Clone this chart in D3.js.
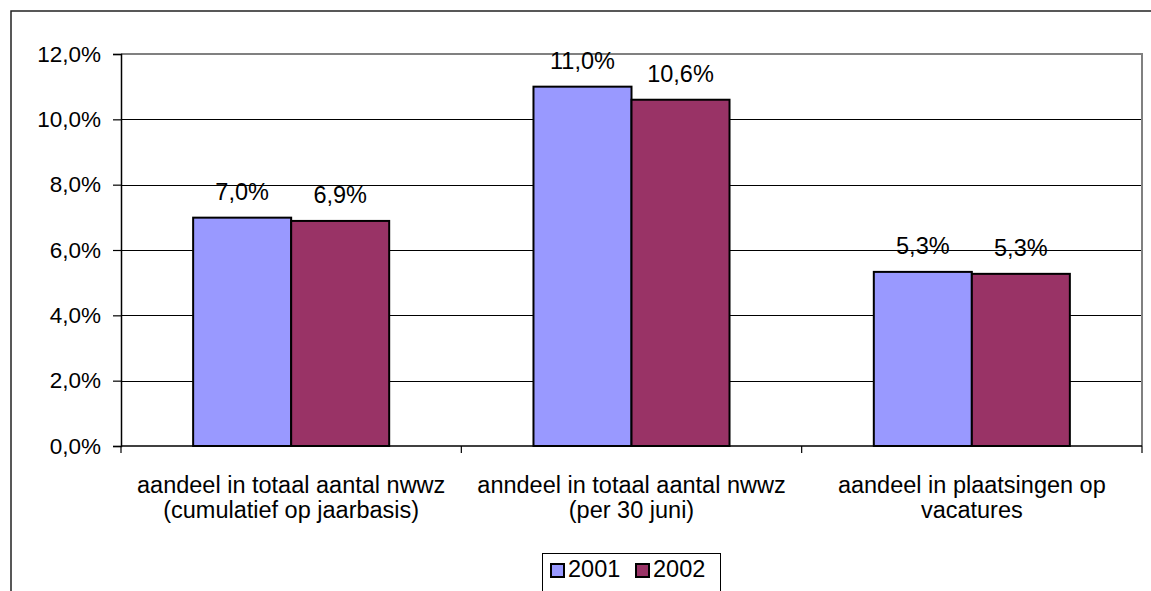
<!DOCTYPE html>
<html>
<head>
<meta charset="utf-8">
<script src="https://cdn.jsdelivr.net/npm/d3@7"></script>
<style>
  html, body { margin: 0; padding: 0; background: #fff; }
  svg { display: block; font-family: "Liberation Sans", Arial, sans-serif; }
</style>
</head>
<body>
<svg id="chart" width="1151" height="591"></svg>
<script>
const categories = [
  ["aandeel in totaal aantal nwwz", "(cumulatief op jaarbasis)"],
  ["anndeel in totaal aantal nwwz", "(per 30 juni)"],
  ["aandeel in plaatsingen op", "vacatures"]
];
const seriesNames = ["2001", "2002"];
const values2001 = [0.0699, 0.110, 0.0533];
const values2002 = [0.0689, 0.106, 0.0527];
const labels2001 = ["7,0%", "11,0%", "5,3%"];
const labels2002 = ["6,9%", "10,6%", "5,3%"];
const yTicks = [0, 0.02, 0.04, 0.06, 0.08, 0.10, 0.12];
const colors = ["#9999FF", "#993366"];

(function () {
const svg = d3.select("#chart");
const fs = 22, fsL = 23.5;

// outer chart frame (extends beyond window right/bottom)
svg.append("rect").attr("x", 11).attr("y", 11).attr("width", 1160).attr("height", 600)
  .attr("fill", "#fff").attr("stroke", "#222").attr("stroke-width", 1.5);

const pLeft = 121, pRight = 1142, pTop = 54, pBottom = 446;
const x0 = d3.scaleBand().domain(d3.range(categories.length)).range([pLeft, pRight]).paddingInner(0).paddingOuter(0);
const x1 = d3.scaleBand().domain(seriesNames).range([0, x0.bandwidth()]).paddingInner(0).paddingOuter(0.736);
const y = d3.scaleLinear().domain([0, 0.12]).range([pBottom, pTop]);

// gridlines
svg.append("g").selectAll("line").data(yTicks.filter(t => t > 0 && t < 0.12)).join("line")
  .attr("x1", pLeft).attr("x2", pRight)
  .attr("y1", d => Math.round(y(d)) + 0.5).attr("y2", d => Math.round(y(d)) + 0.5)
  .attr("stroke", "#000").attr("stroke-width", 1);

// plot area top/right border (gray)
svg.append("path")
  .attr("d", `M${pLeft},${pTop}H${pRight}V${pBottom}`)
  .attr("fill", "none").attr("stroke", "#808080").attr("stroke-width", 2);

// bars
const data = seriesNames.map((s, i) => ({
  name: s, color: colors[i],
  values: i === 0 ? values2001 : values2002,
  labels: i === 0 ? labels2001 : labels2002
}));
const series = svg.append("g").selectAll("g").data(data).join("g");
series.selectAll("rect").data(d => d.values.map((v, j) => ({ v, j, s: d.name, c: d.color }))).join("rect")
  .attr("x", d => x0(d.j) + x1(d.s))
  .attr("y", d => y(d.v))
  .attr("width", x1.bandwidth())
  .attr("height", d => y(0) - y(d.v))
  .attr("fill", d => d.c)
  .attr("stroke", "#000").attr("stroke-width", 2);

// value labels
series.selectAll("text").data(d => d.values.map((v, j) => ({ v, j, s: d.name, l: d.labels[j] }))).join("text")
  .attr("x", d => x0(d.j) + x1(d.s) + x1.bandwidth() / 2)
  .attr("y", d => y(d.v) - 18)
  .attr("text-anchor", "middle").attr("font-size", fsL).attr("fill", "#000")
  .text(d => d.l);

// y axis
const yAxis = d3.axisLeft(y).tickValues(yTicks).tickSize(8).tickPadding(12)
  .tickFormat(d => d3.format(".1f")(d * 100).replace(".", ",") + "%");
const gy = svg.append("g").attr("transform", `translate(${pLeft},0)`).call(yAxis);
gy.select(".domain").attr("stroke", "#000").attr("stroke-width", 1.5);
gy.selectAll(".tick line").attr("stroke", "#000").attr("stroke-width", 1.2);
gy.selectAll(".tick text").attr("font-size", fs + 0.5).attr("font-family", "Liberation Sans, Arial, sans-serif").attr("fill", "#000");

// x axis line and category ticks
svg.append("line").attr("x1", pLeft).attr("x2", pRight).attr("y1", pBottom).attr("y2", pBottom)
  .attr("stroke", "#000").attr("stroke-width", 1.5);
const bounds = d3.range(categories.length + 1).map(i => i < categories.length ? x0(i) : x0(categories.length - 1) + x0.bandwidth());
svg.append("g").selectAll("line").data(bounds).join("line")
  .attr("x1", d => d).attr("x2", d => d).attr("y1", pBottom).attr("y2", pBottom + 7)
  .attr("stroke", "#000").attr("stroke-width", 1.2);

// category labels
const cl = svg.append("g").selectAll("text").data(categories).join("text")
  .attr("text-anchor", "middle").attr("font-size", fsL).attr("fill", "#000");
cl.each(function (d, i) {
  const t = d3.select(this);
  d.forEach((line, k) => {
    t.append("tspan").attr("x", x0(i) + x0.bandwidth() / 2).attr("y", 493 + k * 25).text(line);
  });
});

// legend
const lg = svg.append("g");
lg.append("rect").attr("x", 542.5).attr("y", 553.5).attr("width", 178).attr("height", 50)
  .attr("fill", "#fff").attr("stroke", "#000").attr("stroke-width", 1);
const legendX = [551, 636];
const li = lg.selectAll("g").data(data).join("g")
  .attr("transform", (d, i) => `translate(${legendX[i]},0)`);
li.append("rect").attr("x", 0).attr("y", 564).attr("width", 13).attr("height", 13)
  .attr("fill", d => d.color).attr("stroke", "#000").attr("stroke-width", 2);
li.append("text").attr("x", 17).attr("y", 577).attr("font-size", fsL).attr("fill", "#000").text(d => d.name);
})();
</script>
</body>
</html>
